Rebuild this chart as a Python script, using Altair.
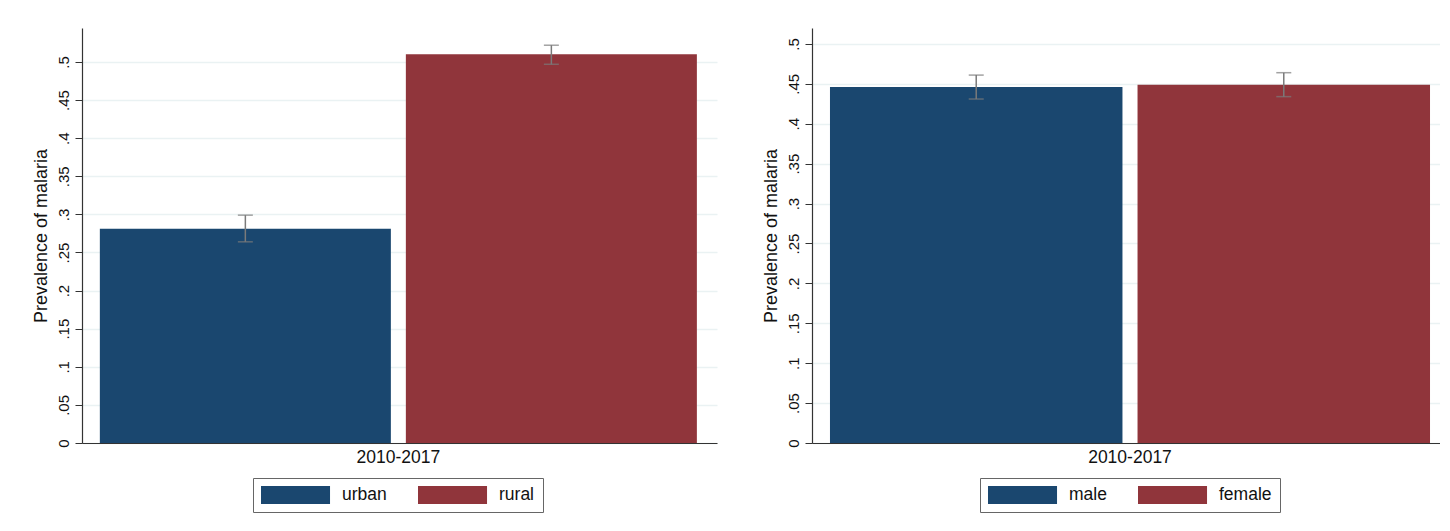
import altair as alt
import pandas as pd

# ---- data ----
periods = ["2010-2017"]

loc_groups = ["urban", "rural"]
loc_prev = [0.281, 0.510]
loc_lo = [0.264, 0.497]
loc_hi = [0.299, 0.522]

sex_groups = ["male", "female"]
sex_prev = [0.446, 0.449]
sex_lo = [0.431, 0.434]
sex_hi = [0.461, 0.464]

y_ticks = [0, 0.05, 0.1, 0.15, 0.2, 0.25, 0.3, 0.35, 0.4, 0.45, 0.5]
bar_colors = ["#1a476f", "#90353b"]

FONT = "Liberation Sans"
ERR = "#7a7a7a"
Y_TITLE = "Prevalence of malaria"


def panel(groups, prev, lo, hi, ymax, width, pad_outer, align, legend_x):
    df = pd.DataFrame({
        "period": periods * len(groups),
        "group": groups,
        "prev": prev,
        "lo": lo,
        "hi": hi,
    })
    x = alt.X(
        "period:N", title=None,
        scale=alt.Scale(paddingInner=0, paddingOuter=pad_outer, align=align),
        axis=alt.Axis(labelAngle=0, ticks=False, labelFontSize=17.5, labelPadding=5,
                      labelColor="#111", domainColor="#333", domainWidth=1.2),
    )
    xo = alt.XOffset("group:N", sort=groups,
                     scale=alt.Scale(paddingInner=0.049, paddingOuter=0))
    yaxis = alt.Axis(
        values=y_ticks,
        labelExpr="datum.value == 0 ? '0' : slice(format(datum.value, '.2~f'), 1)",
        labelAngle=-90, labelAlign="center", labelBaseline="bottom",
        labelFontSize=15, labelColor="#111", labelPadding=4,
        tickSize=7, tickColor="#333", domainColor="#333", domainWidth=1.2,
        grid=True, gridColor="#eaf2f3", gridWidth=1.5,
        titleFontSize=18, titleFontWeight="normal", titleColor="#111", titlePadding=6,
    )
    yscale = alt.Scale(domain=[0, ymax], nice=False, zero=True)

    bars = alt.Chart(df).mark_bar().encode(
        x=x, xOffset=xo,
        y=alt.Y("prev:Q", title=Y_TITLE, scale=yscale, axis=yaxis),
        color=alt.Color(
            "group:N", sort=groups,
            scale=alt.Scale(domain=groups, range=bar_colors),
            legend=alt.Legend(
                title=None, orient="none", legendX=legend_x, legendY=450,
                direction="horizontal",
                symbolType="M-1,-1 L6.67,-1 L6.67,1 L-1,1 Z",
                symbolSize=324, symbolStrokeWidth=0, symbolOpacity=1,
                labelOffset=63, columnPadding=31, padding=8,
                strokeColor="#666", fillColor="#ffffff",
                labelFontSize=17.5, labelColor="#111", labelFont=FONT,
            ),
        ),
    )
    rule = alt.Chart(df).mark_rule(color=ERR, strokeWidth=1.5).encode(
        x=x, xOffset=xo,
        y=alt.Y("lo:Q", title=Y_TITLE, scale=yscale, axis=yaxis),
        y2="hi:Q",
    )
    cap_lo = alt.Chart(df).mark_tick(color=ERR, size=15, thickness=1.5).encode(
        x=x, xOffset=xo,
        y=alt.Y("lo:Q", title=Y_TITLE, scale=yscale, axis=yaxis),
    )
    cap_hi = alt.Chart(df).mark_tick(color=ERR, size=15, thickness=1.5).encode(
        x=x, xOffset=xo,
        y=alt.Y("hi:Q", title=Y_TITLE, scale=yscale, axis=yaxis),
    )
    return alt.layer(bars, rule, cap_lo, cap_hi).properties(width=width, height=415)


left = panel(loc_groups, loc_prev, loc_lo, loc_hi, 0.5446, 635, 0.0318, 0.47, 171)
right = panel(sex_groups, sex_prev, sex_lo, sex_hi, 0.52, 628, 0.0233, 0.643, 168)

chart = (
    alt.hconcat(left, right, spacing=44)
    .resolve_scale(color="independent", xOffset="independent")
    .resolve_legend(color="independent")
    .properties(padding={"left": 24, "top": 20, "right": 0, "bottom": 0})
    .configure(font=FONT)
    .configure_view(stroke=None)
)

chart.save("out.html", embed_options={"renderer": "svg", "actions": False})
